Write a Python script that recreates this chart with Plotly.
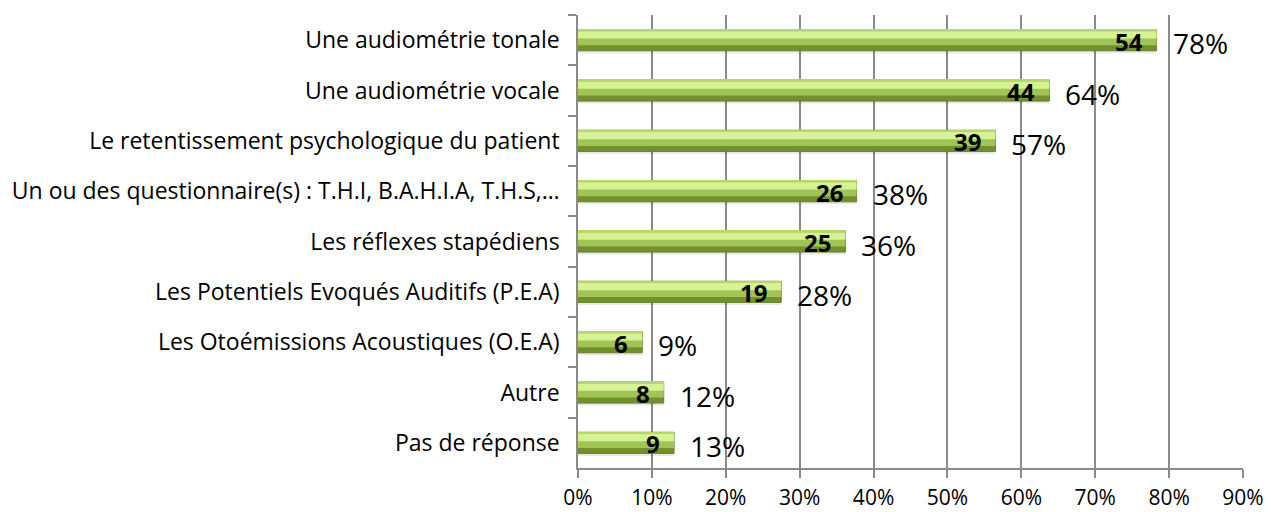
import plotly.graph_objects as go

# ---- data ----
categories = [
    "Une audiométrie tonale",
    "Une audiométrie vocale",
    "Le retentissement psychologique du patient",
    "Un ou des questionnaire(s) : T.H.I, B.A.H.I.A, T.H.S,…",
    "Les réflexes stapédiens",
    "Les Potentiels Evoqués Auditifs (P.E.A)",
    "Les Otoémissions Acoustiques (O.E.A)",
    "Autre",
    "Pas de réponse",
]
counts = [54, 44, 39, 26, 25, 19, 6, 8, 9]
pct = [78.3, 63.8, 56.5, 37.7, 36.2, 27.5, 8.7, 11.6, 13.0]
pct_labels = ["78%", "64%", "57%", "38%", "36%", "28%", "9%", "12%", "13%"]
x_ticks = [0, 10, 20, 30, 40, 50, 60, 70, 80, 90]

FONT = "Open Sans"
W = 0.42  # bar thickness (category units)

fig = go.Figure()

# soft shadow under the bars
fig.add_trace(go.Bar(
    y=categories, x=pct, orientation="h", width=W, offset=-W / 2 + 0.05,
    marker=dict(color="rgba(0,0,0,0.09)", line_width=0),
    hoverinfo="skip", showlegend=False,
))
# base bar (dark lower part)
fig.add_trace(go.Bar(
    y=categories, x=pct, orientation="h", width=W, offset=-W / 2,
    marker=dict(color="#73902f", line=dict(color="#66822a", width=1)),
    hoverinfo="skip", showlegend=False,
))
# middle band
fig.add_trace(go.Bar(
    y=categories, x=pct, orientation="h", width=W * 0.74, offset=-W / 2,
    marker=dict(color="#a0c556", line_width=0),
    hoverinfo="skip", showlegend=False,
))
# top highlight
fig.add_trace(go.Bar(
    y=categories, x=pct, orientation="h", width=W * 0.34, offset=-W / 2 + W * 0.08,
    marker=dict(color="#d6f292", line_width=0),
    hoverinfo="skip", showlegend=False,
))
# thin top edge
fig.add_trace(go.Bar(
    y=categories, x=pct, orientation="h", width=W * 0.08, offset=-W / 2,
    marker=dict(color="#b4d66a", line_width=0),
    hoverinfo="skip", showlegend=False,
))

annotations = []
for cat, p, c, lab in zip(categories, pct, counts, pct_labels):
    # count inside the bar end
    annotations.append(dict(
        x=p, y=cat, xref="x", yref="y", text=f"<b>{c}</b>", showarrow=False,
        xanchor="right", yanchor="middle", xshift=-12, yshift=-1,
        font=dict(family=FONT, size=24, color="black"),
    ))
    # percentage to the right
    annotations.append(dict(
        x=p, y=cat, xref="x", yref="y", text=lab, showarrow=False,
        xanchor="left", yanchor="middle", xshift=14, yshift=-3,
        font=dict(family=FONT, size=28, color="black"),
    ))

fig.update_layout(
    width=1271, height=512,
    margin=dict(l=578, r=28, t=15, b=44),
    barmode="overlay",
    plot_bgcolor="white", paper_bgcolor="white",
    font=dict(family=FONT, size=23, color="black"),
    annotations=annotations,
)
fig.update_xaxes(
    range=[0, 90], tickvals=x_ticks, ticktext=[f"{t}%" for t in x_ticks],
    showgrid=True, gridcolor="#8a8a8a", gridwidth=1.5,
    showline=True, linecolor="#8a8a8a", linewidth=1.5,
    ticks="outside", ticklen=8, tickcolor="#8a8a8a", tickwidth=1.5,
    tickfont=dict(family=FONT, size=21, color="black"),
    ticklabelstandoff=2,
    zeroline=False, fixedrange=True, automargin=False,
)
fig.update_yaxes(
    autorange="reversed", type="category",
    showline=True, linecolor="#8a8a8a", linewidth=1.5,
    ticks="outside", tickson="boundaries", ticklen=8, tickcolor="#8a8a8a", tickwidth=1.5,
    tickfont=dict(family=FONT, size=23, color="black"),
    ticklabelstandoff=12,
    showgrid=False, fixedrange=True, automargin=False,
)

# drop the default page margin so the chart sits at the window's corner
fig.write_html("out.html", config={"displayModeBar": False},
               post_script="document.body.style.margin='0';")
